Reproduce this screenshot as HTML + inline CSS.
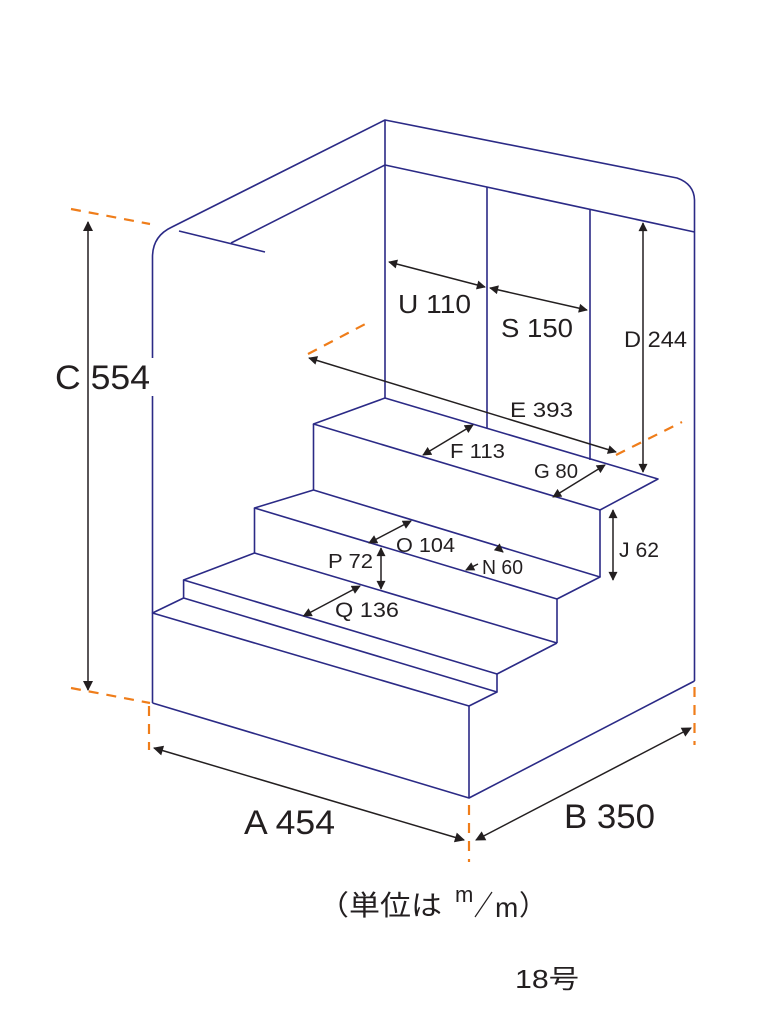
<!DOCTYPE html>
<html><head><meta charset="utf-8"><style>
html,body{margin:0;padding:0;background:#fff;}
svg{display:block;}
text{font-family:"Liberation Sans","Noto Sans CJK JP",sans-serif;fill:#231f20;}
</style></head><body>
<svg width="780" height="1020" viewBox="0 0 780 1020" xmlns="http://www.w3.org/2000/svg">
<defs>
<marker id="ah" viewBox="0 0 10 10" refX="9" refY="5" markerWidth="10" markerHeight="9" orient="auto-start-reverse" markerUnits="userSpaceOnUse">
<path d="M0,0 L10,5 L0,10 z" fill="#231f20"/></marker>
<marker id="as" viewBox="0 0 10 10" refX="9" refY="5" markerWidth="12" markerHeight="10" orient="auto-start-reverse" markerUnits="userSpaceOnUse">
<path d="M0,0 L10,5 L0,10 z" fill="#231f20"/></marker>
</defs>
<g fill="none" stroke="#2b2a86" stroke-width="1.6" stroke-linejoin="round">
<path d="M152.5,703 L152.5,257 Q152.5,236 172,227 L385,120 L677,178 Q694,184 694.5,200 L694.5,681"/>
<path d="M385,120 L385,398"/>
<path d="M385,165 L694.5,232"/>
<path d="M385,165 L231,243"/>
<path d="M179,231 L265,252"/>
<path d="M487,187 L487,428"/>
<path d="M590,209 L590,460"/>
<path d="M385,398 L658,479 L600,510 L313.5,424 Z"/>
<path d="M313.5,424 L313.5,490"/>
<path d="M600,510 L600,577"/>
<path d="M313.5,490 L254.5,508 L557,599 L600,577 L313.5,490"/>
<path d="M254.5,508 L254.5,553"/>
<path d="M557,599 L557,643"/>
<path d="M254.5,553 L557,643"/>
<path d="M254.5,553 L183.6,580 L497,674 L557,643"/>
<path d="M183.6,580 L183.6,598 L497,692 L497,674"/>
<path d="M183.6,598 L152.5,613 L469,706 L497,692"/>
<path d="M469,706 L469,798 L152.5,703"/>
<path d="M469,798 L694.5,681"/>
</g>
<rect x="150" y="358" width="5" height="38" fill="#fff"/>
<g stroke="#ef7d1a" stroke-width="2.2" fill="none" stroke-dasharray="10,8">
<path d="M71,209 L150,224"/>
<path d="M71,688 L150,703"/>
<path d="M149,706 L149,750"/>
<path d="M469,805 L469,862"/>
<path d="M694.5,687 L694.5,745"/>
<path d="M308,354 L371,321"/>
<path d="M616,455 L682,422"/>
</g>
<g stroke="#231f20" stroke-width="1.5" fill="none">
<path d="M88,222 L88,690" marker-start="url(#as)" marker-end="url(#as)"/>
<path d="M154,748 L464,840" marker-start="url(#as)" marker-end="url(#as)"/>
<path d="M476,840 L691,728" marker-start="url(#as)" marker-end="url(#as)"/>
<path d="M389,262 L485,287" marker-start="url(#ah)" marker-end="url(#ah)"/>
<path d="M490,288 L587,310" marker-start="url(#ah)" marker-end="url(#ah)"/>
<path d="M643,223 L643,472" marker-start="url(#ah)" marker-end="url(#ah)"/>
<path d="M309,358 L616,452" marker-start="url(#ah)" marker-end="url(#ah)"/>
<path d="M423,455 L473,425" marker-start="url(#ah)" marker-end="url(#ah)"/>
<path d="M553,497 L605,465" marker-start="url(#ah)" marker-end="url(#ah)"/>
<path d="M613,510 L613,580" marker-start="url(#ah)" marker-end="url(#ah)"/>
<path d="M369,543 L411,521" marker-start="url(#ah)" marker-end="url(#ah)"/>
<path d="M381,548 L381,589" marker-start="url(#ah)" marker-end="url(#ah)"/>
<path d="M303.5,616 L360,586" marker-start="url(#ah)" marker-end="url(#ah)"/>
<path d="M478,564 L466,570" marker-end="url(#ah)"/>
<path d="M497,547 L503,552" marker-end="url(#ah)"/>
</g>
<text x="55" y="389" font-size="34" textLength="95" lengthAdjust="spacingAndGlyphs">C 554</text>
<text x="244" y="834" font-size="34" textLength="91" lengthAdjust="spacingAndGlyphs">A 454</text>
<text x="564" y="828" font-size="34" textLength="91" lengthAdjust="spacingAndGlyphs">B 350</text>
<text x="398" y="313" font-size="26" textLength="73" lengthAdjust="spacingAndGlyphs">U 110</text>
<text x="501" y="337" font-size="26" textLength="72" lengthAdjust="spacingAndGlyphs">S 150</text>
<text x="624" y="347" font-size="22" textLength="63" lengthAdjust="spacingAndGlyphs">D 244</text>
<text x="510" y="417" font-size="21" textLength="63" lengthAdjust="spacingAndGlyphs">E 393</text>
<text x="450" y="458" font-size="20" textLength="55" lengthAdjust="spacingAndGlyphs">F 113</text>
<text x="534" y="478" font-size="20" textLength="44" lengthAdjust="spacingAndGlyphs">G 80</text>
<text x="619" y="557" font-size="21" textLength="40" lengthAdjust="spacingAndGlyphs">J 62</text>
<text x="396" y="552" font-size="20" textLength="59" lengthAdjust="spacingAndGlyphs">O 104</text>
<text x="482" y="574" font-size="20" textLength="41" lengthAdjust="spacingAndGlyphs">N 60</text>
<text x="328" y="568" font-size="20" textLength="45" lengthAdjust="spacingAndGlyphs">P 72</text>
<text x="335" y="617" font-size="21" textLength="64" lengthAdjust="spacingAndGlyphs">Q 136</text>
<text x="318" y="915" font-size="28" textLength="124" lengthAdjust="spacingAndGlyphs">（単位は</text>
<text x="455" y="902" font-size="22">m</text>
<path d="M475,917 L492,892" stroke="#231f20" stroke-width="1.2"/>
<text x="495" y="917" font-size="28">m</text>
<text x="519" y="915" font-size="28">）</text>
<text x="515" y="988" font-size="26" textLength="64" lengthAdjust="spacingAndGlyphs">18号</text>
</svg>
</body></html>
